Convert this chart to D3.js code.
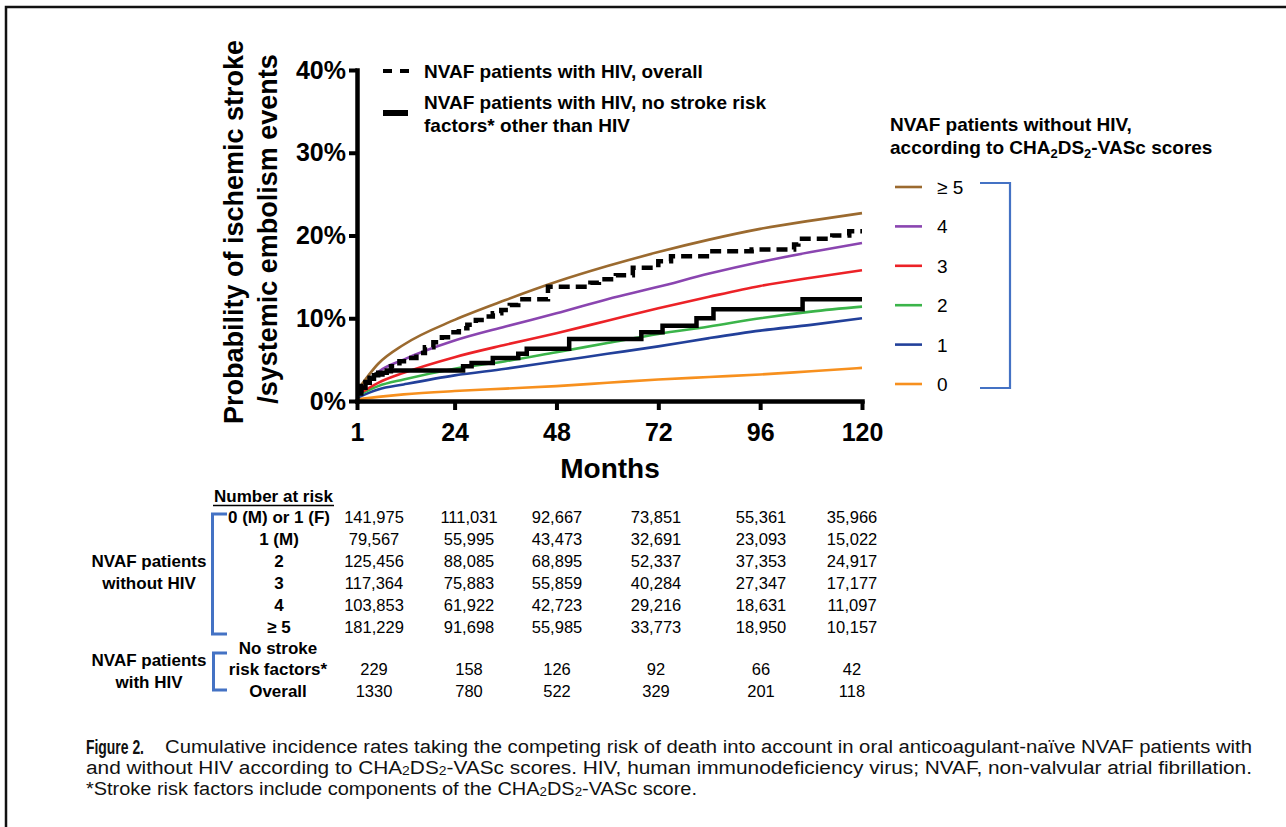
<!DOCTYPE html>
<html><head><meta charset="utf-8">
<script src="https://cdn.jsdelivr.net/npm/d3@7"></script>
<style>
html,body{margin:0;padding:0;background:#fff;}
svg{display:block;font-family:"Liberation Sans",Arial,Helvetica,sans-serif;}
</style>
</head><body>
<svg id="chart" width="1286" height="827"></svg>
<script>
// ---------------- DATA ----------------
const months = [1, 6, 12, 24, 36, 48, 60, 72, 84, 96, 108, 120];
const scoreLabels = ["≥ 5", "4", "3", "2", "1", "0"];
const scoreColors = ["#9b6a2f", "#8a45b0", "#ec2227", "#3bb44a", "#22409a", "#f7901e"];
const score5 = [1.2, 4.5, 6.8, 9.8, 12.2, 14.4, 16.3, 18.0, 19.5, 20.8, 21.8, 22.7];
const score4 = [0.8, 3.5, 5.0, 7.3, 9.0, 10.6, 12.3, 13.8, 15.4, 16.8, 18.0, 19.1];
const score3 = [0.7, 2.2, 3.4, 5.3, 6.8, 8.2, 9.7, 11.2, 12.6, 13.9, 14.9, 15.8];
const score2 = [0.6, 1.8, 2.6, 3.9, 4.8, 5.9, 7.0, 8.1, 9.0, 10.0, 10.8, 11.4];
const score1 = [0.4, 1.4, 2.0, 3.1, 3.9, 4.8, 5.7, 6.6, 7.6, 8.5, 9.2, 10.0];
const score0 = [0.2, 0.5, 0.8, 1.2, 1.5, 1.8, 2.2, 2.6, 2.9, 3.2, 3.6, 4.0];

const hivOverallMonths = [1, 2, 3, 4, 5, 7, 9, 11, 13, 15, 17, 19, 21, 23, 25, 27, 29, 31, 33, 35, 37, 39, 46, 56, 58, 62, 66, 72, 75, 84, 94, 104, 105, 113, 117, 120];
const hivOverallValues = [1.2, 1.8, 2.3, 2.8, 3.2, 3.6, 4.2, 4.8, 5.2, 5.8, 6.5, 7.1, 7.7, 8.3, 8.8, 9.2, 9.8, 10.2, 10.6, 11.0, 11.6, 12.3, 13.8, 14.3, 14.7, 15.2, 16.1, 16.9, 17.5, 18.1, 18.3, 18.9, 19.6, 20.0, 20.5, 20.5];
const hivNoRiskMonths = [1, 2, 3, 4, 5, 6, 8, 26, 28, 33, 39, 41, 51, 68, 73, 81, 85, 106, 120];
const hivNoRiskValues = [0.9, 1.6, 2.2, 2.7, 3.1, 3.4, 3.7, 4.2, 4.6, 5.2, 5.7, 6.3, 7.5, 8.3, 9.1, 10.0, 11.1, 12.3, 12.3];

const xTicks = [1, 24, 48, 72, 96, 120];
const yTicks = [0, 10, 20, 30, 40];

const riskRowLabels = ["0 (M) or 1 (F)", "1 (M)", "2", "3", "4", "≥ 5"];
const riskNoHIV0 = [141975, 111031, 92667, 73851, 55361, 35966];
const riskNoHIV1 = [79567, 55995, 43473, 32691, 23093, 15022];
const riskNoHIV2 = [125456, 88085, 68895, 52337, 37353, 24917];
const riskNoHIV3 = [117364, 75883, 55859, 40284, 27347, 17177];
const riskNoHIV4 = [103853, 61922, 42723, 29216, 18631, 11097];
const riskNoHIV5 = [181229, 91698, 55985, 33773, 18950, 10157];
const riskHIVNoRF = [229, 158, 126, 92, 66, 42];
const riskHIVOverall = [1330, 780, 522, 329, 201, 118];

// ---------------- LAYOUT ----------------
const svg = d3.select("#chart");
const x = d3.scaleLinear().domain([1, 120]).range([357, 862]);
const y = d3.scaleLinear().domain([0, 40]).range([401, 70]);
const BLUE = "#4472c4";

function rich(textSel, str, subSize, shift) {
  const re = /_(.)/g;
  let last = 0, m, pending = 0;
  const add = (t, attrs) => {
    const ts = textSel.append("tspan").text(t);
    if (pending) { ts.attr("dy", pending); pending = 0; }
    if (attrs) { ts.attr("font-size", attrs.fs).attr("dy", attrs.dy); pending = -attrs.dy; }
  };
  while ((m = re.exec(str))) {
    if (m.index > last) add(str.slice(last, m.index));
    add(m[1], {fs: subSize, dy: shift});
    last = re.lastIndex;
  }
  if (last < str.length) add(str.slice(last));
  return textSel;
}

// frame
svg.append("path").attr("d", "M6,827V7H1286").attr("fill", "none")
  .attr("stroke", "#111").attr("stroke-width", 2.5);

// ---------------- CURVES ----------------
const smooth = d3.line().x(d => x(d[0])).y(d => y(d[1])).curve(d3.curveMonotoneX);
const step = d3.line().x(d => x(d[0])).y(d => y(d[1])).curve(d3.curveStepAfter);
const scoreSeries = [score5, score4, score3, score2, score1, score0];

const gCurves = svg.append("g");
scoreSeries.slice().reverse().forEach((s, ri) => {
  const i = scoreSeries.length - 1 - ri;
  gCurves.append("path")
    .datum(months.map((m, k) => [m, s[k]]))
    .attr("d", smooth).attr("fill", "none")
    .attr("stroke", scoreColors[i]).attr("stroke-width", 2.6);
});
gCurves.append("path")
  .datum(hivNoRiskMonths.map((m, k) => [m, hivNoRiskValues[k]]))
  .attr("d", step).attr("fill", "none").attr("stroke", "#000").attr("stroke-width", 4.5);
gCurves.append("path")
  .datum(hivOverallMonths.map((m, k) => [m, hivOverallValues[k]]))
  .attr("d", step).attr("fill", "none").attr("stroke", "#000").attr("stroke-width", 4.5)
  .attr("stroke-dasharray", "11,6");

// ---------------- AXES ----------------
const yAxis = svg.append("g").attr("transform", "translate(357,0)")
  .call(d3.axisLeft(y).tickValues(yTicks).tickFormat(d => d + "%").tickSize(8).tickSizeOuter(0).tickPadding(3));
const xAxis = svg.append("g").attr("transform", "translate(0,401)")
  .call(d3.axisBottom(x).tickValues(xTicks).tickSize(9).tickSizeOuter(0).tickPadding(13));
[yAxis, xAxis].forEach(a => {
  a.select(".domain").attr("stroke", "#000").attr("stroke-width", 4.5).attr("stroke-linecap", "square");
  a.selectAll(".tick line").attr("stroke", "#000").attr("stroke-width", 4);
  a.selectAll(".tick text").attr("fill", "#000").attr("font-size", 25).attr("font-weight", "bold")
    .attr("font-family", '"Liberation Sans",Arial,sans-serif');
});

// axis titles
const yTitle = svg.append("g").attr("font-weight", "bold").attr("font-size", 27).attr("fill", "#000");
yTitle.append("text").attr("transform", "translate(243,232) rotate(-90)").attr("text-anchor", "middle")
  .text("Probability of ischemic stroke");
yTitle.append("text").attr("transform", "translate(277,229) rotate(-90)").attr("text-anchor", "middle")
  .text("/systemic embolism events");
svg.append("text").attr("x", 610).attr("y", 478).attr("text-anchor", "middle")
  .attr("font-weight", "bold").attr("font-size", 28).text("Months");

// ---------------- TOP LEGEND ----------------
const gL = svg.append("g").attr("font-weight", "bold").attr("font-size", 19);
gL.append("line").attr("x1", 383).attr("x2", 410).attr("y1", 71).attr("y2", 71)
  .attr("stroke", "#000").attr("stroke-width", 4).attr("stroke-dasharray", "9,8");
gL.append("text").attr("x", 424).attr("y", 78).text("NVAF patients with HIV, overall");
gL.append("line").attr("x1", 383).attr("x2", 408).attr("y1", 113).attr("y2", 113)
  .attr("stroke", "#000").attr("stroke-width", 6);
gL.append("text").attr("x", 424).attr("y", 109).text("NVAF patients with HIV, no stroke risk");
gL.append("text").attr("x", 424).attr("y", 132).text("factors* other than HIV");

// ---------------- RIGHT LEGEND ----------------
const gR = svg.append("g");
gR.append("text").attr("x", 890).attr("y", 131).attr("font-weight", "bold").attr("font-size", 19)
  .text("NVAF patients without HIV,");
rich(gR.append("text").attr("x", 890).attr("y", 154).attr("font-weight", "bold").attr("font-size", 19),
  "according to CHA_2DS_2-VASc scores", 13, 4);
const legY = d3.scalePoint().domain(scoreLabels).range([187, 384]);
scoreLabels.forEach((lab, i) => {
  gR.append("line").attr("x1", 895).attr("x2", 922).attr("y1", legY(lab)).attr("y2", legY(lab))
    .attr("stroke", scoreColors[i]).attr("stroke-width", 2.6);
  gR.append("text").attr("x", 937).attr("y", legY(lab) + 7).attr("font-size", 19).text(lab);
});
gR.append("path").attr("d", "M980,183H1010V388H980").attr("fill", "none")
  .attr("stroke", BLUE).attr("stroke-width", 2.2);

// ---------------- NUMBER AT RISK TABLE ----------------
const colX = [374, 469, 557, 656, 761, 852];
const rowY = [523, 545, 567, 589, 611, 633];
const gT = svg.append("g");
gT.append("text").attr("x", 273.5).attr("y", 502).attr("text-anchor", "middle")
  .attr("font-weight", "bold").attr("font-size", 17).text("Number at risk");
gT.append("line").attr("x1", 213).attr("x2", 334).attr("y1", 505.5).attr("y2", 505.5)
  .attr("stroke", "#000").attr("stroke-width", 1.6);

const noHIVRows = [riskNoHIV0, riskNoHIV1, riskNoHIV2, riskNoHIV3, riskNoHIV4, riskNoHIV5];
const fmt = d3.format(",");
riskRowLabels.forEach((lab, r) => {
  gT.append("text").attr("x", 279).attr("y", rowY[r]).attr("text-anchor", "middle")
    .attr("font-weight", "bold").attr("font-size", 17).text(lab);
  noHIVRows[r].forEach((v, c) => {
    gT.append("text").attr("x", colX[c]).attr("y", rowY[r]).attr("text-anchor", "middle")
      .attr("font-size", 16.5).text(fmt(v));
  });
});
// HIV rows
gT.append("text").attr("x", 278).attr("y", 654).attr("text-anchor", "middle")
  .attr("font-weight", "bold").attr("font-size", 17).text("No stroke");
gT.append("text").attr("x", 278).attr("y", 675).attr("text-anchor", "middle")
  .attr("font-weight", "bold").attr("font-size", 17).text("risk factors*");
gT.append("text").attr("x", 278).attr("y", 697).attr("text-anchor", "middle")
  .attr("font-weight", "bold").attr("font-size", 17).text("Overall");
riskHIVNoRF.forEach((v, c) => {
  gT.append("text").attr("x", colX[c]).attr("y", 675).attr("text-anchor", "middle")
    .attr("font-size", 16.5).text(v);
});
riskHIVOverall.forEach((v, c) => {
  gT.append("text").attr("x", colX[c]).attr("y", 697).attr("text-anchor", "middle")
    .attr("font-size", 16.5).text(v);
});
// group labels
[["NVAF patients", 567], ["without HIV", 589], ["NVAF patients", 666], ["with HIV", 688]].forEach(([t, yy]) => {
  gT.append("text").attr("x", 149).attr("y", yy).attr("text-anchor", "middle")
    .attr("font-weight", "bold").attr("font-size", 17).text(t);
});
gT.append("path").attr("d", "M227,514H212.5V634H227").attr("fill", "none").attr("stroke", BLUE).attr("stroke-width", 3);
gT.append("path").attr("d", "M227,653H213.5V690H227").attr("fill", "none").attr("stroke", BLUE).attr("stroke-width", 3);

// ---------------- CAPTION ----------------
const gC = svg.append("g").attr("font-size", 18).attr("fill", "#111");
gC.append("text").attr("x", 86).attr("y", 754).attr("font-weight", "bold").attr("font-size", 21)
  .attr("textLength", 58).attr("lengthAdjust", "spacingAndGlyphs").text("Figure 2.");
gC.append("text").attr("x", 165).attr("y", 753)
  .attr("textLength", 1087).attr("lengthAdjust", "spacingAndGlyphs")
  .text("Cumulative incidence rates taking the competing risk of death into account in oral anticoagulant-naïve NVAF patients with");
rich(gC.append("text").attr("x", 86).attr("y", 774)
  .attr("textLength", 1166).attr("lengthAdjust", "spacingAndGlyphs"),
  "and without HIV according to CHA_2DS_2-VASc scores. HIV, human immunodeficiency virus; NVAF, non-valvular atrial fibrillation.", 12, 1);
rich(gC.append("text").attr("x", 86).attr("y", 795)
  .attr("textLength", 611).attr("lengthAdjust", "spacingAndGlyphs"),
  "*Stroke risk factors include components of the CHA_2DS_2-VASc score.", 12, 1);
</script>
</body></html>
